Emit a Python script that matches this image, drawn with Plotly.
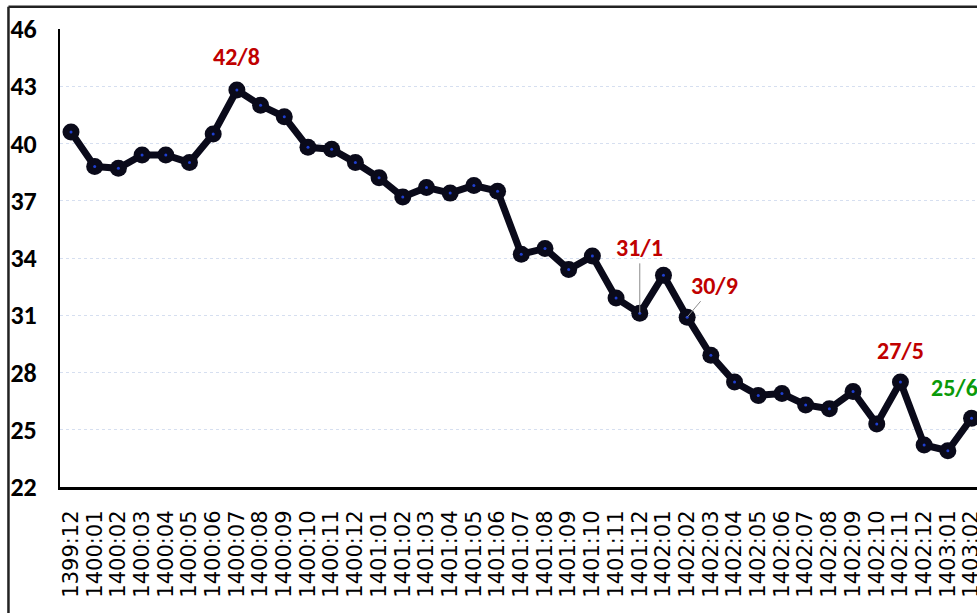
import plotly.graph_objects as go

categories = ["1399:12"] + [f"1400:{m:02d}" for m in range(1, 13)] + \
    [f"1401:{m:02d}" for m in range(1, 13)] + [f"1402:{m:02d}" for m in range(1, 13)] + \
    ["1403:01", "1403:02"]

values = [40.6, 38.8, 38.7, 39.4, 39.4, 39.0, 40.5, 42.8, 42.0, 41.4,
          39.8, 39.7, 39.0, 38.2, 37.2, 37.7, 37.4, 37.8, 37.5, 34.2,
          34.5, 33.4, 34.1, 31.9, 31.1, 33.1, 30.9, 28.9, 27.5, 26.8,
          26.9, 26.3, 26.1, 27.0, 25.3, 27.5, 24.2, 23.9, 25.6]

y_ticks = [22, 25, 28, 31, 34, 37, 40, 43, 46]

# labelled points: (category, text, colour)
labels = [("1400:07", "42/8", "#C00000"),
          ("1401:12", "31/1", "#C00000"),
          ("1402:02", "30/9", "#C00000"),
          ("1402:11", "27/5", "#C00000"),
          ("1403:02", "25/6", "#0A9A0A")]

BOLD_FONT = "Carlito, 'Liberation Sans Narrow', 'DejaVu Sans Condensed', sans-serif"

fig = go.Figure()
fig.add_trace(go.Scatter(
    x=categories, y=values, mode="lines+markers",
    line=dict(color="#0a0a1a", width=7),
    marker=dict(size=17, color="#0a0a1a"),
    hoverinfo="skip", showlegend=False))
fig.add_trace(go.Scatter(
    x=categories, y=values, mode="markers",
    marker=dict(size=3, color="#1f3fd0"),
    hoverinfo="skip", showlegend=False))

val = dict(zip(categories, values))
offsets = {"42/8": (0, -34, False), "31/1": (0, -66, True), "30/9": (27, -32, True),
           "27/5": (0, -32, False), "25/6": (-17, -31, False)}
for cat, txt, col in labels:
    ax, ay, arrow = offsets[txt]
    fig.add_annotation(
        x=cat, y=val[cat], text=f"<b>{txt}</b>",
        font=dict(family=BOLD_FONT, size=24, color=col),
        showarrow=arrow, arrowhead=0, arrowwidth=1, arrowcolor="#8c8c8c",
        ax=ax, ay=ay,
        xshift=0 if arrow else ax, yshift=0 if arrow else -ay)

fig.update_layout(
    width=977, height=613,
    margin=dict(l=60, r=0, t=29, b=126),
    paper_bgcolor="white", plot_bgcolor="white",
    xaxis=dict(type="category", range=[-0.464, 38.23], tickmode="array",
               tickvals=categories, ticktext=categories, automargin=False,
               tickangle=-90, tickfont=dict(family="DejaVu Sans", size=21, color="black"),
               showgrid=False, showline=True, linecolor="black", linewidth=3,
               ticks="", ticklabelstandoff=12, zeroline=False),
    yaxis=dict(range=[22, 46], tickvals=y_ticks, automargin=False,
               tickfont=dict(family=BOLD_FONT, size=26, color="black", weight="bold"),
               showgrid=True, gridcolor="#d6dff0", griddash="dot", gridwidth=1,
               showline=True, linecolor="black", linewidth=2,
               ticks="", ticklabelstandoff=16, zeroline=False),
    shapes=[
        dict(type="line", xref="paper", yref="paper", x0=-0.0562, x1=-0.0562,
             y0=1.0487, y1=-0.3, line=dict(color="#222222", width=2.5)),
        dict(type="line", xref="paper", yref="paper", x0=-0.0562, x1=1.05,
             y0=1.0487, y1=1.0487, line=dict(color="#222222", width=2.5)),
    ],
)

fig.write_html("out.html", config={"displayModeBar": False},
               post_script="document.body.style.margin='0';document.body.style.overflow='hidden';")
